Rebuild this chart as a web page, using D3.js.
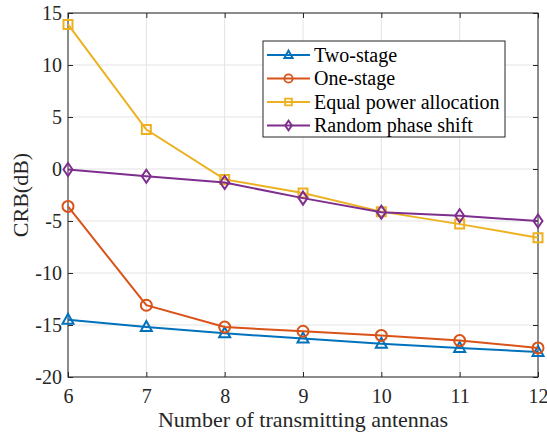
<!DOCTYPE html>
<html>
<head>
<meta charset="utf-8">
<script src="https://cdn.jsdelivr.net/npm/d3@7"></script>
<style>
  body { margin: 0; background: #fff; }
  svg { display: block; }
  svg text { font-family: 'Liberation Serif', 'Times New Roman', Times, 'DejaVu Serif', serif; fill: #262626; }
</style>
</head>
<body>
<svg width="547" height="434"></svg>
<script>
// data
const antennas = [6, 7, 8, 9, 10, 11, 12];
const twoStage = [-14.5, -15.2, -15.8, -16.3, -16.8, -17.2, -17.6];
const oneStage = [-3.6, -13.1, -15.2, -15.6, -16.0, -16.5, -17.2];
const equalPower = [13.9, 3.8, -1.0, -2.3, -4.1, -5.3, -6.6];
const randomPhase = [-0.05, -0.7, -1.3, -2.8, -4.15, -4.5, -5.0];
const yTicks = [-20, -15, -10, -5, 0, 5, 10, 15];

const series = [
  { name: 'Two-stage', values: twoStage, color: '#0072BD', marker: 'triangle' },
  { name: 'One-stage', values: oneStage, color: '#D95319', marker: 'circle' },
  { name: 'Equal power allocation', values: equalPower, color: '#EDB120', marker: 'square' },
  { name: 'Random phase shift', values: randomPhase, color: '#7E2F8E', marker: 'diamond' },
];

const FONT = "'Liberation Serif', 'Times New Roman', Times, serif";

const svg = d3.select('svg');
const margin = { left: 68, right: 9, top: 13, bottom: 57 };
const width = 547 - margin.left - margin.right,
  height = 434 - margin.top - margin.bottom;

const x = d3.scaleLinear().domain([6, 12]).range([0, width]);
const y = d3.scaleLinear().domain([-20, 15]).range([height, 0]);

const g = svg.append('g').attr('transform', `translate(${margin.left},${margin.top})`);

// grid
g.append('g')
  .selectAll('line')
  .data(antennas)
  .enter()
  .append('line')
  .attr('x1', (d) => x(d))
  .attr('x2', (d) => x(d))
  .attr('y1', 0)
  .attr('y2', height)
  .attr('stroke', '#e3e3e3')
  .attr('stroke-width', 1);
g.append('g')
  .selectAll('line')
  .data(yTicks)
  .enter()
  .append('line')
  .attr('x1', 0)
  .attr('x2', width)
  .attr('y1', (d) => y(d))
  .attr('y2', (d) => y(d))
  .attr('stroke', '#e3e3e3')
  .attr('stroke-width', 1);

// axes, ticks pointing inward, box on
const styleAxis = (sel) => {
  sel.attr('font-family', FONT).attr('font-size', 20);
  sel.select('.domain').remove();
  sel.selectAll('.tick line').attr('stroke', '#262626');
  sel.selectAll('.tick text')
    .style('font-family', FONT)
    .style('font-size', '20px')
    .style('fill', '#262626');
};

g.append('g')
  .attr('transform', `translate(0,${height})`)
  .call(d3.axisBottom(x).tickValues(antennas).tickFormat(d3.format('d'))
    .tickSizeInner(-5).tickSizeOuter(0).tickPadding(12))
  .call(styleAxis);
g.append('g')
  .call(d3.axisTop(x).tickValues(antennas).tickSizeInner(-5).tickSizeOuter(0).tickFormat(''))
  .call(styleAxis);
g.append('g')
  .call(d3.axisLeft(y).tickValues(yTicks).tickFormat((d) => String(d))
    .tickSizeInner(-5).tickSizeOuter(0).tickPadding(6))
  .call(styleAxis);
g.append('g')
  .attr('transform', `translate(${width},0)`)
  .call(d3.axisRight(y).tickValues(yTicks).tickSizeInner(-5).tickSizeOuter(0).tickFormat(''))
  .call(styleAxis);

g.append('rect')
  .attr('width', width)
  .attr('height', height)
  .attr('fill', 'none')
  .attr('stroke', '#262626')
  .attr('stroke-width', 1);

// markers
const markerPath = (type) => {
  if (type === 'triangle') return 'M0,-6L5.5,4L-5.5,4Z';
  if (type === 'square') return 'M-4.5,-4.5H4.5V4.5H-4.5Z';
  if (type === 'diamond') return 'M0,-6.5L4.5,0L0,6.5L-4.5,0Z';
  return d3.symbol(d3.symbolCircle, 95)();
};

const line = d3.line()
  .x((d, i) => x(antennas[i]))
  .y((d) => y(d));

series.forEach((s) => {
  g.append('path')
    .datum(s.values)
    .attr('fill', 'none')
    .attr('stroke', s.color)
    .attr('stroke-width', 2)
    .attr('d', line);
  g.selectAll(null)
    .data(s.values)
    .enter()
    .append('path')
    .attr('transform', (d, i) => `translate(${x(antennas[i])},${y(d)})`)
    .attr('d', markerPath(s.marker))
    .attr('fill', 'none')
    .attr('stroke', s.color)
    .attr('stroke-width', 2);
});

// axis labels
svg.append('text')
  .attr('x', margin.left + width / 2)
  .attr('y', 427)
  .attr('text-anchor', 'middle')
  .style('font-size', '22px')
  .text('Number of transmitting antennas');

svg.append('text')
  .attr('transform', `translate(28,${margin.top + height / 2}) rotate(-90)`)
  .attr('text-anchor', 'middle')
  .style('font-size', '22px')
  .text('CRB(dB)');

// legend
const legend = svg.append('g').attr('transform', 'translate(263,41)');
legend.append('rect')
  .attr('width', 242)
  .attr('height', 96)
  .attr('fill', '#fff')
  .attr('stroke', '#262626')
  .attr('stroke-width', 1);

series.forEach((s, i) => {
  const row = legend.append('g').attr('transform', `translate(0,${14 + i * 23.5})`);
  row.append('line')
    .attr('x1', 4)
    .attr('x2', 47)
    .attr('stroke', s.color)
    .attr('stroke-width', 2);
  row.append('path')
    .attr('transform', 'translate(25.5,0) scale(0.75)')
    .attr('d', markerPath(s.marker))
    .attr('fill', 'none')
    .attr('stroke', s.color)
    .attr('stroke-width', 2.5);
  row.append('text')
    .attr('x', 51)
    .attr('y', 6.5)
    .style('font-size', '20px')
    .style('fill', '#000')
    .text(s.name);
});
</script>
</body>
</html>
